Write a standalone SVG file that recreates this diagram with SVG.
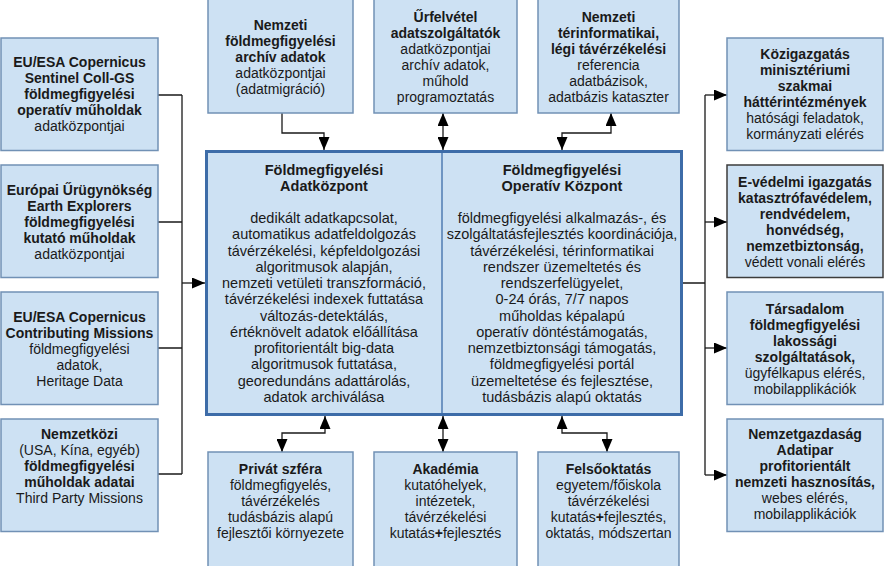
<svg xmlns="http://www.w3.org/2000/svg" width="884" height="566" viewBox="0 0 884 566">
<style>
.box{fill:#cde1f3;stroke:#7191b5;stroke-width:1.5}
.dark{stroke:#3c3c3c}
.main{fill:#cde1f3;stroke:#3d6ca8;stroke-width:3}
.div{stroke:#3d6ca8;stroke-width:1.3;fill:none}
text{font-family:"Liberation Sans",Arial,sans-serif;font-size:14px;fill:#1a1a1a;text-anchor:middle}
.b{font-weight:bold}
.c{font-size:14.5px}
.ln{fill:none;stroke:#1a1a1a;stroke-width:1.3}
.ar{fill:none;stroke:#1a1a1a;stroke-width:1.3;marker-end:url(#ah)}
.ar2{fill:none;stroke:#1a1a1a;stroke-width:1.3;marker-start:url(#ah);marker-end:url(#ah)}
</style>
<defs>
<marker id="ah" markerUnits="userSpaceOnUse" markerWidth="13" markerHeight="11" refX="13" refY="5.5" orient="auto-start-reverse" viewBox="0 0 13 11">
<path d="M0,0 L13,5.5 L0,11 z" fill="#000"/>
</marker>
</defs>
<rect width="884" height="566" fill="#fff"/>

<g id="connectors">
<path class="ln" d="M158,95 H182 M158,222 H182 M158,348 H182 M158,474 H182 M182,95 V474"/>
<path class="ar" d="M182,283 H205"/>
<path class="ar" d="M282,113 V133 H324 V150"/>
<path class="ar2" d="M443,113 V150"/>
<path class="ar2" d="M562,150 V133 H611 V113"/>
<path class="ar2" d="M325,416 V433 H282 V452"/>
<path class="ar2" d="M443,416 V452"/>
<path class="ar2" d="M562,416 V433 H607 V452"/>
<path class="ln" d="M683,283 H705 M705,95 V475"/>
<path class="ar" d="M705,95 H727"/>
<path class="ar" d="M705,222 H727"/>
<path class="ar" d="M705,348 H727"/>
<path class="ar" d="M705,475 H727"/>
</g>

<g id="center">
<rect class="main" x="206.5" y="151.5" width="475" height="263"/>
<line class="div" x1="442" y1="153" x2="442" y2="413"/>
<text class="b c" x="324" y="175">Földmegfigyelési</text>
<text class="b c" x="324" y="191">Adatközpont</text>
<text class="c" x="324" y="223">dedikált adatkapcsolat,</text>
<text class="c" x="324" y="239.3">automatikus adatfeldolgozás</text>
<text class="c" x="324" y="255.5">távérzékelési, képfeldolgozási</text>
<text class="c" x="324" y="271.8">algoritmusok alapján,</text>
<text class="c" x="324" y="288.1">nemzeti vetületi transzformáció,</text>
<text class="c" x="324" y="304.4">távérzékelési indexek futtatása</text>
<text class="c" x="324" y="320.6">változás-detektálás,</text>
<text class="c" x="324" y="336.9">értéknövelt adatok előállítása</text>
<text class="c" x="324" y="353.2">profitorientált big-data</text>
<text class="c" x="324" y="369.4">algoritmusok futtatása,</text>
<text class="c" x="324" y="385.7">georedundáns adattárolás,</text>
<text class="c" x="324" y="402">adatok archiválása</text>
<text class="b c" x="562" y="175">Földmegfigyelési</text>
<text class="b c" x="562" y="191">Operatív Központ</text>
<text class="c" x="562" y="223">földmegfigyelési alkalmazás-, és</text>
<text class="c" x="562" y="239.3">szolgáltatásfejlesztés koordinációja,</text>
<text class="c" x="562" y="255.5">távérzékelési, térinformatikai</text>
<text class="c" x="562" y="271.8">rendszer üzemeltetés és</text>
<text class="c" x="562" y="288.1">rendszerfelügyelet,</text>
<text class="c" x="562" y="304.4">0-24 órás, 7/7 napos</text>
<text class="c" x="562" y="320.6">műholdas képalapú</text>
<text class="c" x="562" y="336.9">operatív döntéstámogatás,</text>
<text class="c" x="562" y="353.2">nemzetbiztonsági támogatás,</text>
<text class="c" x="562" y="369.4">földmegfigyelési portál</text>
<text class="c" x="562" y="385.7">üzemeltetése és fejlesztése,</text>
<text class="c" x="562" y="402">tudásbázis alapú oktatás</text>
</g>

<g id="left1">
<rect class="box" x="1" y="38" width="157" height="112.5"/>
<text class="b" x="79.5" y="67">EU/ESA Copernicus</text>
<text class="b" x="79.5" y="83">Sentinel Coll-GS</text>
<text class="b" x="79.5" y="99">földmegfigyelési</text>
<text class="b" x="79.5" y="115">operatív műholdak</text>
<text x="79.5" y="131">adatközpontjai</text>
</g>
<g id="left2">
<rect class="box" x="1" y="165" width="157" height="112.5"/>
<text class="b" x="79.5" y="194.5">Európai Űrügynökség</text>
<text class="b" x="79.5" y="210.5">Earth Explorers</text>
<text class="b" x="79.5" y="226.5">földmegfigyelési</text>
<text class="b" x="79.5" y="242.5">kutató műholdak</text>
<text x="79.5" y="258.5">adatközpontjai</text>
</g>
<g id="left3">
<rect class="box" x="1" y="292" width="157" height="112.5"/>
<text class="b" x="79.5" y="321.5">EU/ESA Copernicus</text>
<text class="b" x="79.5" y="337.5">Contributing Missions</text>
<text x="79.5" y="353.5">földmegfigyelési</text>
<text x="79.5" y="369.5">adatok,</text>
<text x="79.5" y="385.5">Heritage Data</text>
</g>
<g id="left4">
<rect class="box" x="1" y="419" width="157" height="112.5"/>
<text class="b" x="79.5" y="439">Nemzetközi</text>
<text x="79.5" y="455">(USA, Kína, egyéb)</text>
<text class="b" x="79.5" y="471">földmegfigyelési</text>
<text class="b" x="79.5" y="487">műholdak adatai</text>
<text x="79.5" y="503">Third Party Missions</text>
</g>

<g id="top1">
<rect class="box" x="208" y="-2" width="145" height="115"/>
<text class="b" x="280.5" y="30">Nemzeti</text>
<text class="b" x="280.5" y="46">földmegfigyelési</text>
<text class="b" x="280.5" y="62">archív adatok</text>
<text x="280.5" y="78">adatközpontjai</text>
<text x="280.5" y="94">(adatmigráció)</text>
</g>
<g id="top2">
<rect class="box" x="374" y="-2" width="143" height="115"/>
<text class="b" x="445.5" y="22">Űrfelvétel</text>
<text class="b" x="445.5" y="38">adatszolgáltatók</text>
<text x="445.5" y="54">adatközpontjai</text>
<text x="445.5" y="70">archív adatok,</text>
<text x="445.5" y="86">műhold</text>
<text x="445.5" y="102">programoztatás</text>
</g>
<g id="top3">
<rect class="box" x="538" y="-2" width="141" height="115"/>
<text class="b" x="608.5" y="22">Nemzeti</text>
<text class="b" x="608.5" y="38">térinformatikai,</text>
<text class="b" x="608.5" y="54">légi távérzékelési</text>
<text x="608.5" y="70">referencia</text>
<text x="608.5" y="86">adatbázisok,</text>
<text x="608.5" y="102">adatbázis kataszter</text>
</g>

<g id="bottom1">
<rect class="box" x="208" y="452" width="145" height="120"/>
<text class="b" x="280.5" y="474">Privát szféra</text>
<text x="280.5" y="490">földmegfigyelés,</text>
<text x="280.5" y="506">távérzékelés</text>
<text x="280.5" y="522">tudásbázis alapú</text>
<text x="280.5" y="538">fejlesztői környezete</text>
</g>
<g id="bottom2">
<rect class="box" x="374" y="452" width="143" height="120"/>
<text class="b" x="445.5" y="474">Akadémia</text>
<text x="445.5" y="490">kutatóhelyek,</text>
<text x="445.5" y="506">intézetek,</text>
<text x="445.5" y="522">távérzékelési</text>
<text x="445.5" y="538">kutatás<tspan class="b">+</tspan>fejlesztés</text>
</g>
<g id="bottom3">
<rect class="box" x="538" y="452" width="141" height="120"/>
<text class="b" x="608.5" y="474">Felsőoktatás</text>
<text x="608.5" y="490">egyetem/főiskola</text>
<text x="608.5" y="506">távérzékelési</text>
<text x="608.5" y="522">kutatás<tspan class="b">+</tspan>fejlesztés,</text>
<text x="608.5" y="538">oktatás, módszertan</text>
</g>

<g id="right1">
<rect class="box" x="727" y="38" width="156" height="112.5"/>
<text class="b" x="805" y="59">Közigazgatás</text>
<text class="b" x="805" y="75">minisztériumi</text>
<text class="b" x="805" y="91">szakmai</text>
<text class="b" x="805" y="107">háttérintézmények</text>
<text x="805" y="123">hatósági feladatok,</text>
<text x="805" y="139">kormányzati elérés</text>
</g>
<g id="right2">
<rect class="box dark" x="727" y="165" width="156" height="112.5"/>
<text class="b" x="805" y="186.5">E-védelmi igazgatás</text>
<text class="b" x="805" y="202.5">katasztrófavédelem,</text>
<text class="b" x="805" y="218.5">rendvédelem,</text>
<text class="b" x="805" y="234.5">honvédség,</text>
<text class="b" x="805" y="250.5">nemzetbiztonság,</text>
<text x="805" y="266.5">védett vonali elérés</text>
</g>
<g id="right3">
<rect class="box" x="727" y="292" width="156" height="112.5"/>
<text class="b" x="805" y="313.5">Társadalom</text>
<text class="b" x="805" y="329.5">földmegfigyelési</text>
<text class="b" x="805" y="345.5">lakossági</text>
<text class="b" x="805" y="361.5">szolgáltatások,</text>
<text x="805" y="377.5">ügyfélkapus elérés,</text>
<text x="805" y="393.5">mobilapplikációk</text>
</g>
<g id="right4">
<rect class="box" x="727" y="419" width="156" height="112.5"/>
<text class="b" x="805" y="439">Nemzetgazdaság</text>
<text class="b" x="805" y="455">Adatipar</text>
<text class="b" x="805" y="471">profitorientált</text>
<text class="b" x="805" y="487">nemzeti hasznosítás,</text>
<text x="805" y="503">webes elérés,</text>
<text x="805" y="519">mobilapplikációk</text>
</g>
</svg>
